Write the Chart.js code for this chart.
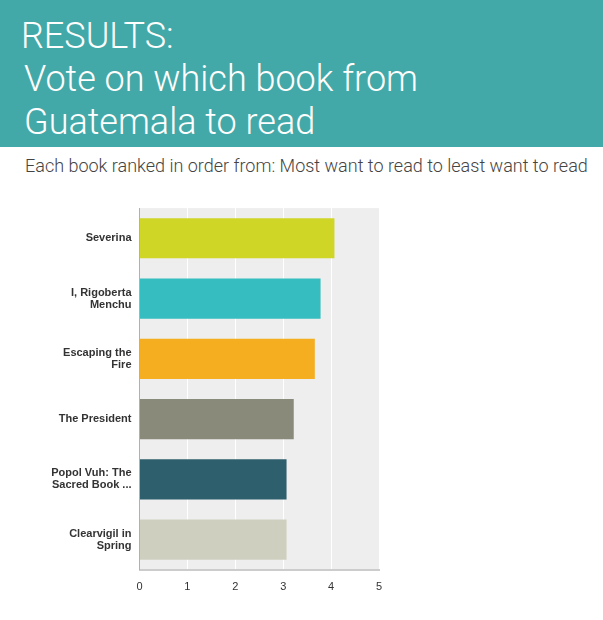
<!DOCTYPE html>
<html>
<head>
<meta charset="utf-8">
<script src="https://cdn.jsdelivr.net/npm/chart.js@4.4.0/dist/chart.umd.min.js"></script>
<style>
  html, body { margin: 0; padding: 0; background: #fff; }
  body { width: 603px; height: 620px; position: relative; overflow: hidden; }
  #header {
    position: absolute; left: 0; top: 0; width: 603px; height: 147px;
    background: #43a9a8; color: #fff;
    font-family: Roboto, sans-serif; font-weight: 300;
    font-size: 36px; line-height: 43px;
  }
  #header .l1 { position: absolute; left: 21px; top: 15px; }
  #header .l2 { position: absolute; left: 24px; top: 58px; }
  #header .l3 { position: absolute; left: 24px; top: 101px; }
  #sub {
    position: absolute; left: 25px; top: 155px;
    font-family: Roboto, sans-serif; font-weight: 300;
    font-size: 18px; color: #444; white-space: nowrap;
  }
  #wrap { position: absolute; left: 0; top: 188px; width: 400px; height: 422px; }
</style>
</head>
<body>
<div id="header">
  <div class="l1">RESULTS:</div>
  <div class="l2">Vote on which book from</div>
  <div class="l3">Guatemala to read</div>
</div>
<div id="sub">Each book ranked in order from: Most want to read to least want to read</div>
<div id="wrap"><canvas id="myBarChart"></canvas></div>
<script>
// data
const books = [
    ["Severina"],
    ["I, Rigoberta", "Menchu"],
    ["Escaping the", "Fire"],
    ["The President"],
    ["Popol Vuh: The", "Sacred Book ..."],
    ["Clearvigil in", "Spring"],
];
const avgRank = [4.07, 3.78, 3.66, 3.22, 3.07, 3.07];
const barColors = ["#cfd626", "#35bdbf", "#f5ae1f", "#898a7a", "#2e5f6c", "#cfcfbf"];
const xTicks = [0, 1, 2, 3, 4, 5];

// grey plot background
const plotBg = {
    id: 'plotBg',
    beforeDraw(chart) {
        const a = chart.chartArea;
        const c = chart.ctx;
        c.save();
        c.fillStyle = '#eeeeee';
        c.fillRect(a.left, a.top, a.right - a.left, a.bottom - a.top);
        c.restore();
    }
};

const barConfig = {
    type: 'bar',
    data: {
        labels: books,
        datasets: [{
            data: avgRank,
            backgroundColor: barColors,
            borderWidth: 0,
            categoryPercentage: 1,
            barPercentage: 0.667,
        }]
    },
    options: {
        indexAxis: 'y',
        responsive: true,
        maintainAspectRatio: false,
        animation: false,
        layout: { padding: { top: 5, right: 21, bottom: 5, left: 0 } },
        scales: {
            x: {
                min: 0,
                max: 5,
                afterBuildTicks(scale) {
                    scale.ticks = xTicks.map(v => ({ value: v }));
                },
                grid: { color: '#ffffff', lineWidth: 1, drawTicks: false },
                border: { color: '#cccccc', width: 2 },
                ticks: {
                    color: '#333',
                    padding: 11,
                    font: { family: 'Arial, "Liberation Sans", sans-serif', size: 11 }
                }
            },
            y: {
                afterFit(scale) { scale.width = 139.5; },
                grid: { display: false, drawTicks: false },
                border: { color: '#b0b0b0', width: 1 },
                ticks: {
                    color: '#333',
                    padding: 8,
                    font: { family: 'Arial, "Liberation Sans", sans-serif', size: 11, weight: 'bold', lineHeight: 1.1 }
                }
            }
        },
        plugins: {
            legend: { display: false },
            tooltip: { enabled: false }
        }
    },
    plugins: [plotBg]
};

var ctx = document.getElementById("myBarChart");
var myBarChart = new Chart(ctx, barConfig);
</script>
</body>
</html>
